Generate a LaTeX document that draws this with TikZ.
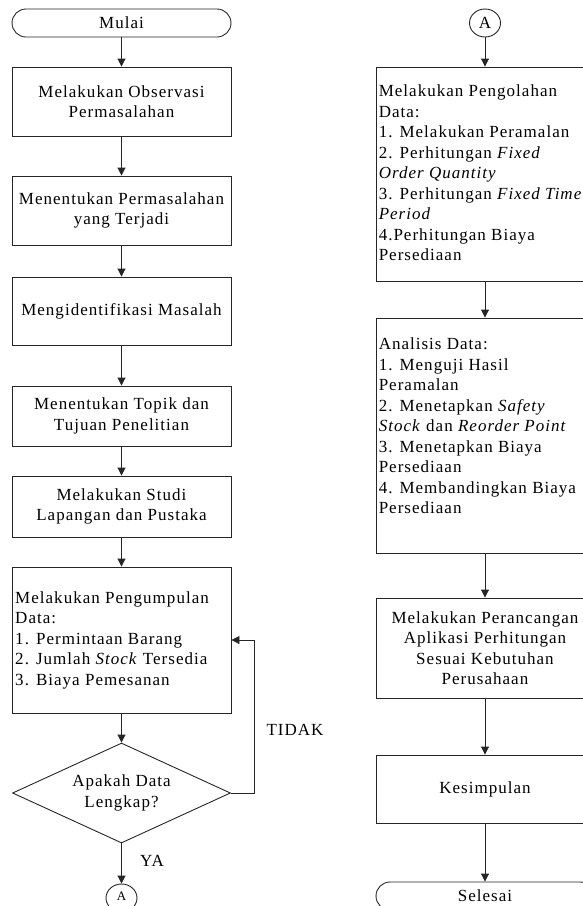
\documentclass[tikz,border=0pt]{standalone}
\usepackage{fontspec}
\setmainfont{Liberation Serif}[LetterSpace=6]
\usetikzlibrary{shapes.geometric,arrows.meta}
\begin{document}
\begin{tikzpicture}[x=1pt,y=-1pt,
  every node/.style={font=\fontsize{17}{20.5}\selectfont, text=black},
  box/.style={draw=black!85, line width=0.9pt, minimum width=219pt, inner sep=0pt, align=center},
  rbox/.style={box, minimum width=218pt},
  term/.style={box, rounded corners=14pt, minimum height=28pt},
  conn/.style={draw=black!85, line width=0.9pt, ellipse, minimum width=31pt, minimum height=28pt, inner sep=0pt},
  decision/.style={draw=black!85, line width=0.9pt, diamond, aspect=2.18, minimum width=218pt, minimum height=100pt, inner sep=0pt, align=center},
  txt/.style={anchor=west, align=left, inner sep=0pt},
  arr/.style={draw=black!85, line width=0.9pt, -{Triangle[width=8pt,length=8pt]}},
  lbl/.style={inner sep=0pt}]
\useasboundingbox (0,0) rectangle (582,906);
% left column
\node[term] (start) at (121.5,23) {Mulai};
\node[box, minimum height=69pt] (b1) at (121.5,101.5) {Melakukan Observasi\\Permasalahan};
\node[box, minimum height=69pt] (b2) at (121.5,210.5) {Menentukan Permasalahan\\yang Terjadi};
\node[box, minimum height=68pt] (b3) at (121.5,311) {Mengidentifikasi Masalah};
\node[box, minimum height=60pt] (b4) at (121.5,416) {Menentukan Topik dan\\Tujuan Penelitian};
\node[box, minimum height=61pt] (b5) at (121.5,506.5) {Melakukan Studi\\Lapangan dan Pustaka};
\node[box, minimum height=146pt] (b6) at (121.5,640) {};
\node[txt] (b6t) at ([xshift=3.5pt]b6.west) {Melakukan Pengumpulan\\Data:\\1. Permintaan Barang\\2. Jumlah \textit{Stock} Tersedia\\3. Biaya Pemesanan};
\node[decision] (q) at (121.5,793) {Apakah Data\\Lengkap?};
\node[conn, font=\fontsize{13}{15}\selectfont] (a1) at (121.5,898) {\raisebox{4.5pt}{A}};
\node[lbl] (tidak) at (295,729.5) {TIDAK};
\node[lbl] (ya) at (152,861) {YA};
% right column
\node[conn] (a2) at (485,23) {A};
\node[rbox, minimum height=214pt] (r1) at (485,174) {};
\node[txt] (r1t) at ([xshift=3pt,yshift=1pt]r1.west) {Melakukan Pengolahan\\Data:\\1. Melakukan Peramalan\\2. Perhitungan \textit{Fixed}\\\textit{Order Quantity}\\3. Perhitungan \textit{Fixed Time}\\\textit{Period}\\4.Perhitungan Biaya\\Persediaan};
\node[rbox, minimum height=235pt] (r2) at (485,435.5) {};
\node[txt] (r2t) at ([xshift=3pt,yshift=9.5pt]r2.west) {Analisis Data:\\1. Menguji Hasil\\Peramalan\\2. Menetapkan \textit{Safety}\\\textit{Stock} dan \textit{Reorder Point}\\3. Menetapkan Biaya\\Persediaan\\4. Membandingkan Biaya\\Persediaan};
\node[rbox, minimum height=100pt] (r3) at (485,648) {Melakukan Perancangan\\Aplikasi Perhitungan\\Sesuai Kebutuhan\\Perusahaan};
\node[rbox, minimum height=68pt] (r4) at (485,789) {Kesimpulan};
\node[term, minimum width=218pt] (end) at (485,896) {Selesai};
% connectors
\draw[arr] (start) -- (b1);
\draw[arr] (b1) -- (b2);
\draw[arr] (b2) -- (b3);
\draw[arr] (b3) -- (b4);
\draw[arr] (b4) -- (b5);
\draw[arr] (b5) -- (b6);
\draw[arr] (b6) -- (q);
\draw[arr] (q) -- (a1);
\draw[arr] (q.east) -- ++(23,0) |- (b6.east);
\draw[arr] (a2) -- (r1);
\draw[arr] (r1) -- (r2);
\draw[arr] (r2) -- (r3);
\draw[arr] (r3) -- (r4);
\draw[arr] (r4) -- (end);
\end{tikzpicture}
\end{document}
